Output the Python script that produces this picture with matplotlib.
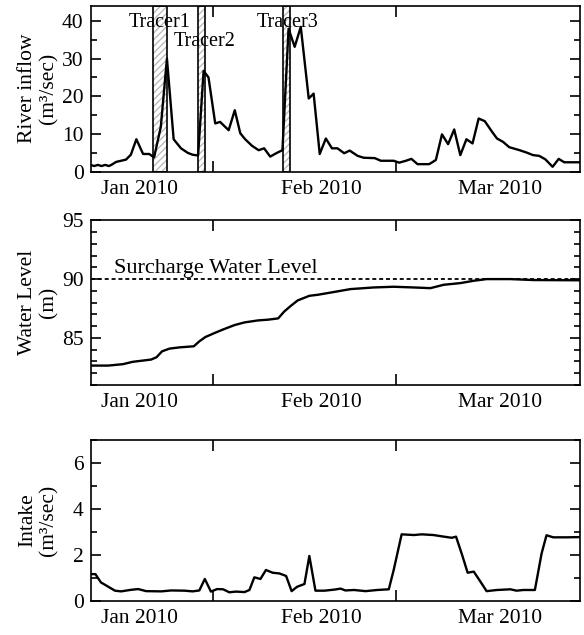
import matplotlib
matplotlib.use("Agg")
from matplotlib import pyplot as plt
from matplotlib.ticker import FixedLocator, FixedFormatter, MultipleLocator, NullFormatter

plt.rcParams['font.family'] = ['Liberation Serif', 'DejaVu Serif']
plt.rcParams['hatch.linewidth'] = 1.0

# x values are days since 24 Dec 2009
x_range = (0, 80)
major_tick_day = [20, 50]
month_label_day = [8, 37.7, 67]
month_labels = ['Jan 2010', 'Feb 2010', 'Mar 2010']

# river inflow (m3/sec)
inflow_day = [0, 0.6, 1.2, 1.8, 2.4, 3.0, 3.4, 4.2, 5.0, 5.8, 6.6, 7.5, 8.6, 9.6, 10.4,
              11.5, 12.5, 13.6, 14.8, 15.9, 16.7, 17.6, 18.5, 19.3, 20.4, 21.2, 22.6,
              23.6, 24.5, 25.3, 26.4, 27.5, 28.4, 29.4, 30.5, 31.4, 32.4, 33.4, 34.4,
              35.7, 36.5, 37.5, 38.5, 39.5, 40.4, 41.5, 42.4, 43.7, 44.7, 46.5, 47.5,
              49.6, 50.5, 51.6, 52.5, 53.5, 55.4, 56.5, 57.5, 58.5, 59.5, 60.5, 61.5,
              62.5, 63.5, 64.5, 65.6, 66.5, 67.5, 68.5, 70.2, 71.3, 72.4, 73.4, 74.4,
              75.6, 76.6, 77.5, 80]
inflow = [1.8, 1.5, 1.8, 1.5, 1.8, 1.5, 1.8, 2.6, 2.9, 3.2, 4.5, 8.6, 4.7, 4.7, 3.8,
          11.9, 30.0, 8.6, 6.2, 5.0, 4.5, 4.3, 26.7, 25.0, 12.8, 13.2, 11.0,
          16.3, 10.2, 8.6, 6.9, 5.7, 6.2, 4.0, 5.0, 5.7, 37.9, 33.1, 38.4,
          19.4, 20.7, 4.7, 8.8, 6.2, 6.2, 4.9, 5.6, 4.2, 3.7, 3.6, 2.9,
          2.9, 2.4, 2.9, 3.4, 2.0, 2.0, 3.1, 9.9, 7.3, 11.2, 4.4, 8.6,
          7.5, 14.1, 13.4, 10.8, 8.8, 7.9, 6.5, 5.7, 5.1, 4.4, 4.2, 3.3,
          1.3, 3.4, 2.5, 2.5]

tracer_names = ['Tracer1', 'Tracer2', 'Tracer3']
tracer_start = [10.3, 17.6, 31.5]
tracer_end = [12.5, 18.7, 32.6]
tracer_label_day = [11.3, 18.7, 32.2]
tracer_label_y = [39.5, 34.6, 39.5]

# water level (m)
level_day = [0, 2.9, 5.3, 6.9, 9.9, 10.8, 11.7, 12.9, 14.6, 16.9, 17.8, 18.8, 20.3,
             21.6, 23.6, 25.2, 27.4, 29.0, 30.7, 31.7, 32.8, 33.9, 35.8, 37.2, 40.0,
             42.5, 46.3, 49.6, 52.9, 55.6, 57.8, 60.5, 62.7, 64.8, 68.7, 72.5, 80]
level = [82.65, 82.65, 82.77, 82.97, 83.16, 83.36, 83.86, 84.09, 84.2, 84.29, 84.71,
         85.08, 85.42, 85.7, 86.1, 86.32, 86.49, 86.55, 86.66, 87.25, 87.74, 88.19,
         88.58, 88.67, 88.92, 89.15, 89.29, 89.35, 89.29, 89.23, 89.52, 89.66, 89.86,
         90.0, 90.0, 89.92, 89.9]
surcharge_level = 90

# intake (m3/sec)
intake_day = [0, 0.8, 1.7, 2.6, 4.0, 5.0, 6.7, 7.8, 9.1, 11.6, 13.2, 15.4, 16.7, 17.8,
              18.7, 19.7, 20.7, 21.7, 22.7, 23.8, 25.2, 26.0, 26.8, 27.8, 28.7, 29.8,
              30.9, 32.0, 32.9, 33.8, 35.0, 35.8, 36.8, 38.3, 40.0, 40.9, 41.7, 43.1,
              45.0, 46.9, 48.8, 49.6, 50.9, 52.9, 54.2, 56.1, 57.8, 59.1, 59.8, 60.8,
              61.7, 62.7, 63.8, 64.8, 66.5, 68.7, 69.7, 70.8, 72.7, 73.8, 74.6, 75.7,
              77.9, 80]
intake = [1.17, 1.17, 0.81, 0.67, 0.45, 0.42, 0.49, 0.52, 0.43, 0.42, 0.46, 0.45, 0.42,
          0.46, 0.96, 0.41, 0.52, 0.51, 0.38, 0.41, 0.39, 0.48, 1.03, 0.96, 1.35, 1.23,
          1.20, 1.09, 0.43, 0.62, 0.74, 1.96, 0.45, 0.45, 0.5, 0.54, 0.46, 0.48,
          0.43, 0.48, 0.51, 1.35, 2.9, 2.87, 2.9, 2.87, 2.8, 2.75, 2.8, 2.0,
          1.23, 1.28, 0.84, 0.43, 0.48, 0.51, 0.45, 0.48, 0.48, 2.07, 2.86, 2.77,
          2.77, 2.78]

FS = 15.5
LW = 1.7


def style_axes(ax, ymin, ymax, ymajor, yminor):
    ax.set_xlim(*x_range)
    ax.set_ylim(ymin, ymax)
    ax.xaxis.set_major_locator(FixedLocator(major_tick_day))
    ax.xaxis.set_major_formatter(NullFormatter())
    ax.xaxis.set_minor_locator(FixedLocator(month_label_day))
    ax.xaxis.set_minor_formatter(FixedFormatter(month_labels))
    ax.yaxis.set_major_locator(MultipleLocator(ymajor))
    ax.yaxis.set_minor_locator(MultipleLocator(yminor))
    ax.tick_params(axis='x', which='major', direction='in', length=8, width=1.2,
                   top=True, bottom=True)
    ax.tick_params(axis='x', which='minor', length=0, pad=6, labelsize=FS)
    ax.tick_params(axis='y', which='both', direction='in', left=True, right=True,
                   width=1.2, labelsize=FS, pad=5)
    ax.tick_params(axis='y', which='major', length=7)
    ax.tick_params(axis='y', which='minor', length=4)
    for s in ax.spines.values():
        s.set_linewidth(1.2)


fig = plt.figure(figsize=(5.84, 6.35), dpi=100)
ax1 = fig.add_axes([0.155, 0.7296, 0.8373, 0.2614])
ax2 = fig.add_axes([0.155, 0.3937, 0.8373, 0.2594])
ax3 = fig.add_axes([0.155, 0.0535, 0.8373, 0.2535])

# river inflow with tracer windows
for x0, x1 in zip(tracer_start, tracer_end):
    ax1.axvspan(x0, x1, facecolor='white', edgecolor='#bdbdbd', hatch='/////',
                linewidth=0, zorder=1)
    ax1.axvspan(x0, x1, facecolor='none', edgecolor='black', linewidth=1.2, zorder=2)
ax1.plot(inflow_day, inflow, color='black', lw=LW, zorder=3)
for name, xd, yv in zip(tracer_names, tracer_label_day, tracer_label_y):
    ax1.text(xd, yv, name, ha='center', va='center', fontsize=14.5, zorder=4)
style_axes(ax1, 0, 44, 10, 5)
ax1.set_ylabel('River inflow\n(m³/sec)', fontsize=FS, linespacing=1.15)

# water level
ax2.axhline(surcharge_level, color='black', lw=1.3, ls=(0, (2.2, 1.6)))
ax2.plot(level_day, level, color='black', lw=LW)
ax2.text(3.8, surcharge_level + 0.1, 'Surcharge Water Level', fontsize=16,
         ha='left', va='bottom')
style_axes(ax2, 81, 95, 5, 1)
ax2.set_ylabel('Water Level\n(m)', fontsize=FS, linespacing=1.15)

# intake
ax3.plot(intake_day, intake, color='black', lw=LW)
style_axes(ax3, 0, 7, 2, 1)
ax3.set_ylabel('Intake\n(m³/sec)', fontsize=FS, linespacing=1.15)

for ax in (ax1, ax2, ax3):
    ax.yaxis.set_label_coords(-0.066, 0.5)

fig.savefig('out.png', dpi=100)
